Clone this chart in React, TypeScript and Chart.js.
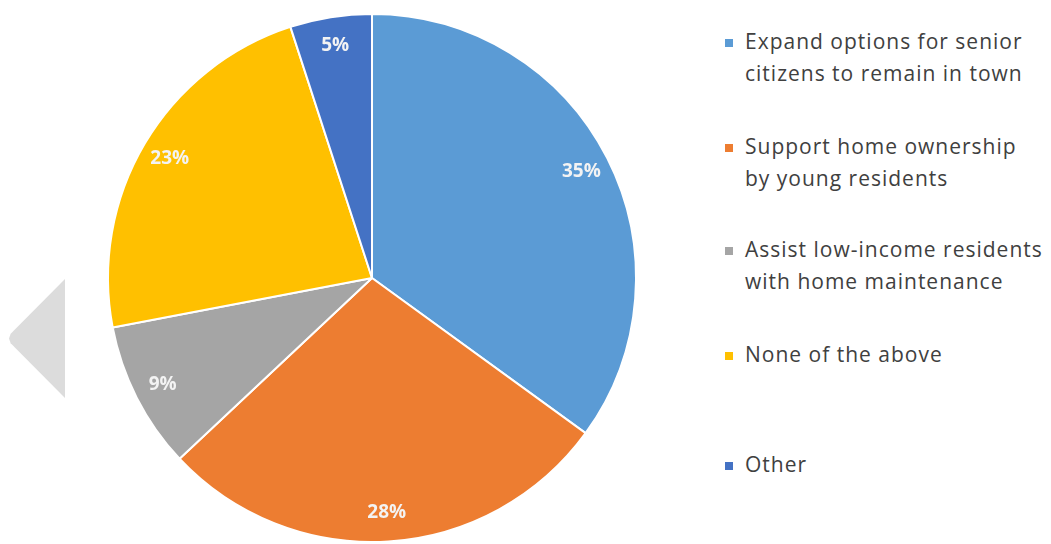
import React, { useEffect, useRef } from "react";
import { Chart, registerables } from "chart.js";

Chart.register(...registerables);

const categories: string[][] = [
  ["Expand options for senior", "citizens to remain in town"],
  ["Support home ownership", "by young residents"],
  ["Assist low-income residents", "with home maintenance"],
  ["None of the above"],
  ["Other"],
];
const values: number[] = [35, 28, 9, 23, 5];
const colors: string[] = ["#5B9BD5", "#ED7D31", "#A5A5A5", "#FFC000", "#4472C4"];
const legendTops: number[] = [25, 130, 233, 338, 448];

const FONT = "'Open Sans', 'Noto Sans', sans-serif";

const labelPlugin = {
  id: "sliceLabels",
  afterDatasetsDraw(chart: any) {
    const ctx = chart.ctx;
    const meta = chart.getDatasetMeta(0);
    const total = values.reduce((a, b) => a + b, 0);
    ctx.save();
    ctx.font = `bold 19px ${FONT}`;
    ctx.fillStyle = "#F3F3F3";
    ctx.textAlign = "center";
    ctx.textBaseline = "middle";
    meta.data.forEach((arc: any, i: number) => {
      const p = arc.getProps(["x", "y", "startAngle", "endAngle", "outerRadius"], true);
      const mid = (p.startAngle + p.endAngle) / 2;
      const r = p.outerRadius * 0.89;
      const x = p.x + Math.cos(mid) * r;
      const y = p.y + Math.sin(mid) * r;
      ctx.fillText(Math.round((values[i] / total) * 100) + "%", x, y);
    });
    ctx.restore();
  },
};

export default function App() {
  const ref = useRef<HTMLCanvasElement | null>(null);

  useEffect(() => {
    if (!ref.current) return;
    const chart = new Chart(ref.current, {
      type: "pie",
      data: {
        labels: categories.map((c) => c.join(" ")),
        datasets: [
          {
            data: values,
            backgroundColor: colors,
            borderColor: "#FFFFFF",
            borderWidth: 2,
          },
        ],
      },
      options: {
        responsive: false,
        animation: false,
        layout: { padding: { top: 13, bottom: 1, left: 0, right: 0 } },
        plugins: {
          legend: { display: false },
          tooltip: { enabled: false },
        },
      },
      plugins: [labelPlugin],
    });
    return () => chart.destroy();
  }, []);

  return (
    <div
      style={{
        position: "absolute",
        left: 0,
        top: 0,
        width: 1051,
        height: 544,
        overflow: "hidden",
        background: "#FFFFFF",
        fontFamily: FONT,
      }}
    >
      <div
        style={{
          position: "absolute",
          left: 9,
          top: 279,
          width: 56,
          height: 119,
          background: "#DCDCDC",
          clipPath: "polygon(100% 0%, 100% 100%, 3% 54%, 0% 50%, 3% 46%)",
        }}
      />
      <canvas
        ref={ref}
        width={560}
        height={544}
        style={{ position: "absolute", left: 92, top: 0, width: 560, height: 544 }}
      />
      {categories.map((lines, i) => (
        <div
          key={i}
          style={{
            position: "absolute",
            left: 725,
            top: legendTops[i],
            display: "flex",
            alignItems: "flex-start",
          }}
        >
          <div
            style={{
              width: 8,
              height: 8,
              background: colors[i],
              marginTop: 14,
              marginRight: 12,
              flexShrink: 0,
            }}
          />
          <div
            style={{
              color: "#404040",
              fontSize: 21,
              letterSpacing: 1,
              lineHeight: "32px",
              whiteSpace: "nowrap",
            }}
          >
            {lines.map((l, j) => (
              <div key={j}>{l}</div>
            ))}
          </div>
        </div>
      ))}
    </div>
  );
}
